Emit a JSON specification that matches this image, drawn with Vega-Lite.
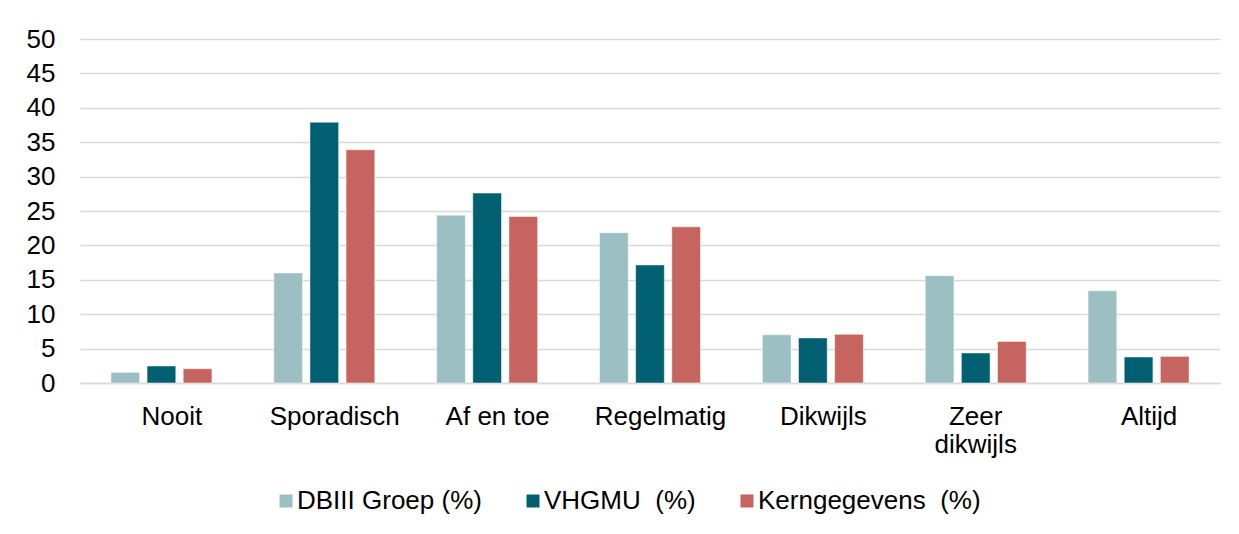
{
  "$schema": "https://vega.github.io/schema/vega-lite/v6.json",
  "width": 1140,
  "height": 344,
  "autosize": {"type": "none"},
  "padding": {"left": 80, "top": 39, "right": 19, "bottom": 151},
  "background": "white",
  "data": {
    "values": [
      {"category": "Nooit", "series": "DBIII Groep (%)", "value": 1.55},
      {"category": "Nooit", "series": "VHGMU  (%)", "value": 2.47},
      {"category": "Nooit", "series": "Kerngegevens  (%)", "value": 2.08},
      {"category": "Sporadisch", "series": "DBIII Groep (%)", "value": 16.0},
      {"category": "Sporadisch", "series": "VHGMU  (%)", "value": 37.9},
      {"category": "Sporadisch", "series": "Kerngegevens  (%)", "value": 33.9},
      {"category": "Af en toe", "series": "DBIII Groep (%)", "value": 24.4},
      {"category": "Af en toe", "series": "VHGMU  (%)", "value": 27.6},
      {"category": "Af en toe", "series": "Kerngegevens  (%)", "value": 24.2},
      {"category": "Regelmatig", "series": "DBIII Groep (%)", "value": 21.85},
      {"category": "Regelmatig", "series": "VHGMU  (%)", "value": 17.15},
      {"category": "Regelmatig", "series": "Kerngegevens  (%)", "value": 22.7},
      {"category": "Dikwijls", "series": "DBIII Groep (%)", "value": 7.0},
      {"category": "Dikwijls", "series": "VHGMU  (%)", "value": 6.55},
      {"category": "Dikwijls", "series": "Kerngegevens  (%)", "value": 7.07},
      {"category": "Zeer dikwijls", "series": "DBIII Groep (%)", "value": 15.6},
      {"category": "Zeer dikwijls", "series": "VHGMU  (%)", "value": 4.36},
      {"category": "Zeer dikwijls", "series": "Kerngegevens  (%)", "value": 6.05},
      {"category": "Altijd", "series": "DBIII Groep (%)", "value": 13.4},
      {"category": "Altijd", "series": "VHGMU  (%)", "value": 3.78},
      {"category": "Altijd", "series": "Kerngegevens  (%)", "value": 3.87}
    ]
  },
  "mark": {"type": "bar", "stroke": "white", "strokeWidth": 0.8, "strokeOpacity": 0.6},
  "encoding": {
    "x": {
      "field": "category",
      "type": "nominal",
      "sort": ["Nooit", "Sporadisch", "Af en toe", "Regelmatig", "Dikwijls", "Zeer dikwijls", "Altijd"],
      "scale": {"paddingInner": 0.38, "paddingOuter": 0.19},
      "axis": {
        "title": null,
        "domain": true,
        "domainColor": "#D9D9D9",
        "domainWidth": 1.5,
        "ticks": false,
        "tickSize": 0,
        "grid": false,
        "labelAngle": 0,
        "labelFontSize": 26,
        "labelColor": "#000000",
        "labelPadding": 20,
        "labelLineHeight": 28.5,
        "labelOverlap": false,
        "labelLimit": 0,
        "labelExpr": "datum.value == 'Zeer dikwijls' ? ['Zeer', 'dikwijls'] : datum.label",
        "labelOffset": {"condition": {"test": "datum.value == 'Zeer dikwijls'", "value": 0}, "value": 10.5}
      }
    },
    "xOffset": {
      "field": "series",
      "sort": ["DBIII Groep (%)", "VHGMU  (%)", "Kerngegevens  (%)"],
      "scale": {"paddingInner": 0.206, "paddingOuter": 0}
    },
    "y": {
      "field": "value",
      "type": "quantitative",
      "scale": {"domain": [0, 50], "nice": false},
      "axis": {
        "title": null,
        "values": [0, 5, 10, 15, 20, 25, 30, 35, 40, 45, 50],
        "grid": true,
        "gridColor": "#D9D9D9",
        "gridWidth": 1.6,
        "domain": false,
        "ticks": false,
        "tickSize": 0,
        "labelFontSize": 26,
        "labelColor": "#000000",
        "labelPadding": 25
      }
    },
    "color": {
      "field": "series",
      "type": "nominal",
      "sort": ["DBIII Groep (%)", "VHGMU  (%)", "Kerngegevens  (%)"],
      "scale": {
        "domain": ["DBIII Groep (%)", "VHGMU  (%)", "Kerngegevens  (%)"],
        "range": ["#9BBFC2", "#005F70", "#C6655F"]
      },
      "legend": {
        "title": null,
        "orient": "none",
        "legendX": 193,
        "legendY": 449,
        "direction": "horizontal",
        "symbolType": "square",
        "symbolSize": 169,
        "symbolStrokeWidth": 0,
        "labelFontSize": 26,
        "labelColor": "#000000",
        "labelOffset": -2,
        "labelLimit": 0,
        "columnPadding": 38,
        "labelExpr": "replace(datum.label, '  ', '\u00a0 ')"
      }
    }
  },
  "config": {
    "view": {"stroke": null},
    "font": "Liberation Sans"
  }
}
